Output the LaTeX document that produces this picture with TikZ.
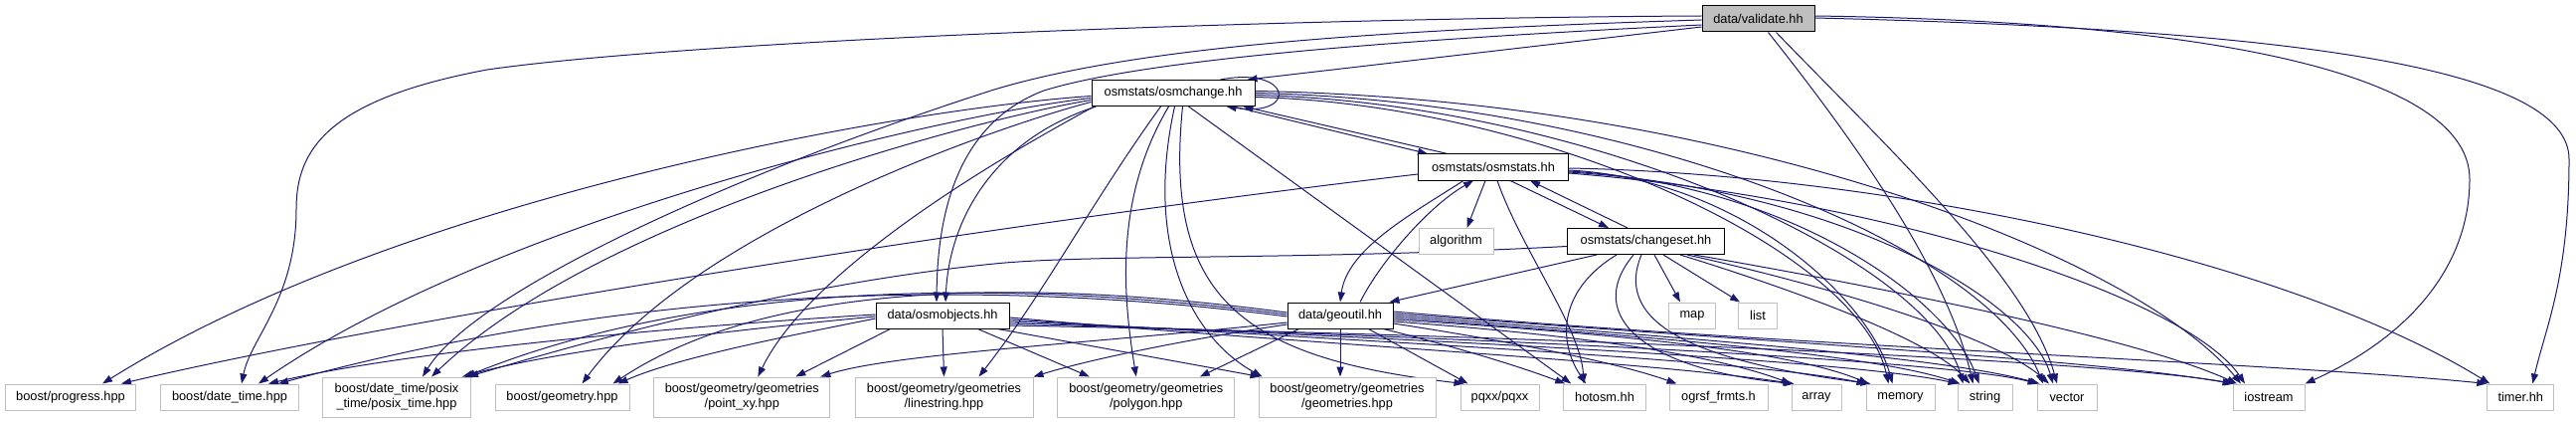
\documentclass[tikz,border=0pt]{standalone}
\usepackage{fontspec}
\setmainfont{Liberation Sans}
\usetikzlibrary{arrows.meta}
\definecolor{edgec}{HTML}{191970}
\definecolor{extgray}{HTML}{BFBFBF}
\definecolor{vfill}{HTML}{BFBFBF}
\pgfdeclarelayer{bg}
\pgfsetlayers{bg,main}
\begin{document}
\begin{tikzpicture}[x=1pt,y=-1pt,
  box/.style={rectangle, inner sep=0pt, minimum height=26pt, font=\fontsize{12.8}{15}\selectfont, line width=1pt},
  doc/.style={box, draw=black, fill=white},
  ext/.style={box, draw=extgray, fill=white},
  ext2/.style={ext, minimum height=40pt, align=center},
  e/.style={draw=edgec, line width=1pt, -{Triangle[length=10pt,width=7pt]}}]
\useasboundingbox (0,0) rectangle (2591,425);
% nodes
\node[doc, fill=vfill, minimum width=113pt] (V) at (1768.5,19) {data/validate.hh};
\node[doc, minimum width=164pt] (OC) at (1180,93.5) {osmstats/osmchange.hh};
\node[doc, minimum width=151pt] (OS) at (1502,168) {osmstats/osmstats.hh};
\node[doc, minimum width=158pt] (CS) at (1655.5,242.5) {osmstats/changeset.hh};
\node[ext, minimum width=75pt] (ALG) at (1464.5,242.5) {algorithm};
\node[doc, minimum width=134pt] (OO) at (948,317) {data/osmobjects.hh};
\node[doc, minimum width=106pt] (GU) at (1348,317) {data/geoutil.hh};
\node[ext, minimum width=47pt] (MAP) at (1702,317) {map};
\node[ext, minimum width=39pt] (LIST) at (1768,317) {list};
\node[ext, minimum width=131pt] (PROG) at (71,399) {boost/progress.hpp};
\node[ext, minimum width=139pt] (DT) at (231,399) {boost/date\_time.hpp};
\node[ext2, minimum width=149pt] (PT) at (399,399) {boost/date\_time/posix\\\_time/posix\_time.hpp};
\node[ext, minimum width=135pt] (GEO) at (565.5,399) {boost/geometry.hpp};
\node[ext2, minimum width=177pt] (PXY) at (746.3,399) {boost/geometry/geometries\\/point\_xy.hpp};
\node[ext2, minimum width=179pt] (LS) at (949.5,399) {boost/geometry/geometries\\/linestring.hpp};
\node[ext2, minimum width=178pt] (POLY) at (1152.8,399) {boost/geometry/geometries\\/polygon.hpp};
\node[ext2, minimum width=178pt] (GEOMS) at (1355,399) {boost/geometry/geometries\\/geometries.hpp};
\node[ext, minimum width=79pt] (PQXX) at (1508.5,399) {pqxx/pqxx};
\node[ext, minimum width=82.5pt] (HOT) at (1614,399) {hotosm.hh};
\node[ext, minimum width=99pt] (OGR) at (1728.5,399) {ogrsf\_frmts.h};
\node[ext, minimum width=50pt] (ARR) at (1827,399) {array};
\node[ext, minimum width=69pt] (MEM) at (1911.5,399) {memory};
\node[ext, minimum width=55pt] (STR) at (1996.5,399) {string};
\node[ext, minimum width=60pt] (VEC) at (2079,399) {vector};
\node[ext, minimum width=72pt] (IOS) at (2282,399) {iostream};
\node[ext, minimum width=67pt] (TIMER) at (2535.3,399) {timer.hh};
\begin{pgfonlayer}{bg}
% validate.hh
\draw[e] ([yshift=-8pt]V.west) -- ([xshift=-8pt]OC.north east);
\draw[e] ([yshift=3pt]V.west) .. controls (1300,18) and (700,40) .. (490,70) .. controls (330,100) and (298,150) .. (298,210) .. controls (298,300) and (252,340) .. ([xshift=12pt]DT.north);
\draw[e] ([yshift=-1pt]V.west) .. controls (1400,30) and (1150,45) .. (1000,90) .. controls (750,170) and (480,290) .. ([xshift=26pt]PT.north);
\draw[e] ([yshift=-6pt]V.west) .. controls (1400,40) and (1150,60) .. (1050,91) .. controls (960,125) and (943,220) .. ([xshift=-6pt]OO.north);
\draw[e] ([xshift=10pt]V.south) .. controls (1880,160) and (1960,280) .. ([xshift=-12pt]STR.north);
\draw[e] ([xshift=18pt]V.south) .. controls (1900,150) and (2040,280) .. ([xshift=-10pt]VEC.north);
\draw[e] ([yshift=3pt]V.east) .. controls (2250,22) and (2484,80) .. (2484,180) .. controls (2484,270) and (2420,340) .. (IOS.north east);
\draw[e] ([yshift=1pt]V.east) .. controls (2320,30) and (2584,70) .. (2584,160) .. controls (2584,280) and (2560,330) .. ([xshift=12pt]TIMER.north);
% osmchange.hh
\draw[e] ([xshift=-35pt]OC.north east) .. controls (1300,66) and (1306,118) .. ([xshift=-29pt]OC.south east);
\draw[e] ([xshift=-22pt]OC.south east) -- ([xshift=10pt]OS.north west);
\draw[e] ([xshift=30pt]OS.north west) -- ([xshift=-12pt]OC.south east);
\draw[e] ([xshift=5pt]OC.south west) .. controls (1000,140) and (955,220) .. ([xshift=3pt]OO.north);
\draw[e] ([yshift=-3pt]OC.west) .. controls (900,110) and (400,200) .. ([xshift=32pt]PROG.north);
\draw[e] ([yshift=-5pt]OC.west) .. controls (950,115) and (500,220) .. ([xshift=29pt]DT.north);
\draw[e] ([yshift=-7pt]OC.west) .. controls (980,120) and (600,220) .. ([xshift=35pt]PT.north);
\draw[e] ([yshift=-9pt]OC.west) .. controls (1010,125) and (700,230) .. ([xshift=20pt]GEO.north);
\draw[e] ([xshift=3pt]OC.south west) .. controls (1040,140) and (820,260) .. ([xshift=16pt]PXY.north);
\draw[e] ([xshift=70pt]OC.south west) .. controls (1100,200) and (1050,295) .. ([xshift=35pt]LS.north);
\draw[e] ([xshift=78pt]OC.south west) .. controls (1120,200) and (1130,300) .. ([xshift=-10pt]POLY.north);
\draw[e] ([xshift=84pt]OC.south west) .. controls (1150,250) and (1200,340) .. ([xshift=4pt]GEOMS.north west);
\draw[e] ([xshift=92pt]OC.south west) .. controls (1170,300) and (1250,360) .. ([xshift=4pt]PQXX.north west);
\draw[e] ([xshift=98pt]OC.south west) -- ([xshift=8pt]HOT.north west);
\draw[e] ([yshift=2pt]OC.east) .. controls (1750,100) and (2150,260) .. ([xshift=-28pt]IOS.north);
\draw[e] ([yshift=0pt]OC.east) .. controls (1650,102) and (2000,250) .. ([xshift=-24pt]VEC.north);
\draw[e] ([yshift=-2pt]OC.east) .. controls (1600,104) and (1940,260) .. ([xshift=-22pt]STR.north);
\draw[e] ([yshift=-4pt]OC.east) .. controls (1550,105) and (1870,250) .. ([xshift=-12pt]MEM.north);
% osmstats.hh
\draw[e] ([xshift=93pt]OS.south west) -- ([xshift=42pt]CS.north west);
\draw[e] ([xshift=61pt]CS.north west) -- ([xshift=113pt]OS.south west);
\draw[e] ([xshift=68pt]OS.south west) -- ([xshift=11pt]ALG.north);
\draw[e] ([xshift=46pt]OS.south west) .. controls (1420,215) and (1355,250) .. (GU.north);
\draw[e] ([xshift=20pt]GU.north) .. controls (1390,260) and (1440,205) .. ([xshift=56pt]OS.south west);
\draw[e] ([xshift=80pt]OS.south west) .. controls (1530,250) and (1590,330) .. ([xshift=-21pt]HOT.north);
\draw[e] ([yshift=-7pt]OS.west) .. controls (1000,225) and (400,320) .. ([xshift=51pt]PROG.north);
\draw[e] ([yshift=-3pt]OS.east) .. controls (1750,180) and (1880,300) .. ([xshift=-8pt]MEM.north);
\draw[e] ([yshift=-4pt]OS.east) .. controls (1800,185) and (1960,300) .. ([xshift=-6pt]STR.north);
\draw[e] ([yshift=-5pt]OS.east) .. controls (1850,190) and (2040,300) .. ([xshift=-14pt]VEC.north);
\draw[e] ([yshift=-6pt]OS.east) .. controls (1900,200) and (2200,300) .. ([xshift=-24pt]IOS.north);
\draw[e] ([yshift=-1pt]OS.east) .. controls (1900,175) and (2300,260) .. ([xshift=3pt]TIMER.north west);
% changeset.hh
\draw[e] ([xshift=30pt]CS.south west) -- ([xshift=-4pt]GU.north east);
\draw[e] ([xshift=88pt]CS.south west) -- ([xshift=-12pt]MAP.north);
\draw[e] ([xshift=97pt]CS.south west) -- ([xshift=-18pt]LIST.north);
\draw[e] ([xshift=50pt]CS.south west) .. controls (1570,290) and (1565,340) .. ([xshift=-19pt]HOT.north);
\draw[e] ([xshift=67pt]CS.south west) .. controls (1590,320) and (1660,372) .. ([xshift=3pt]ARR.north west);
\draw[e] ([xshift=75pt]CS.south west) .. controls (1620,330) and (1720,365) .. ([xshift=5pt]MEM.north west);
\draw[e] ([xshift=-45pt]CS.south east) .. controls (1800,290) and (1940,340) .. ([xshift=-15pt]STR.north);
\draw[e] ([xshift=-38pt]CS.south east) .. controls (1850,290) and (2010,340) .. ([xshift=-18pt]VEC.north);
\draw[e] ([xshift=-31pt]CS.south east) .. controls (1900,290) and (2150,340) .. ([xshift=-32pt]IOS.north);
\draw[e] ([yshift=-5pt]CS.west) .. controls (1300,262) and (1100,255) .. (1000,265) .. controls (800,285) and (600,340) .. ([xshift=-3pt]PT.north east);
% geoutil.hh
\draw[e] ([yshift=-1pt]GU.west) .. controls (1000,280) and (650,285) .. ([xshift=49pt]DT.north);
\draw[e] ([yshift=1pt]GU.west) .. controls (1000,278) and (700,285) .. ([xshift=-6pt]PT.north east);
\draw[e] ([yshift=3pt]GU.west) .. controls (1000,275) and (760,290) .. ([xshift=-17pt]GEO.north east);
\draw[e] ([yshift=-7pt]GU.west) .. controls (1100,345) and (900,355) .. ([xshift=-10pt]PXY.north east);
\draw[e] ([yshift=-9pt]GU.west) .. controls (1200,340) and (1100,360) .. (LS.north east);
\draw[e] ([xshift=12pt]GU.south west) -- ([xshift=54pt]POLY.north);
\draw[e] (GU.south) -- ([xshift=-7pt]GEOMS.north);
\draw[e] ([xshift=-25pt]GU.south east) -- ([xshift=8pt]PQXX.north west);
\draw[e] ([xshift=-10pt]GU.south east) .. controls (1450,345) and (1520,365) .. ([xshift=2pt]HOT.north west);
\draw[e] ([yshift=-8pt]GU.east) .. controls (1500,340) and (1620,362) .. ([xshift=8pt]OGR.north west);
\draw[e] ([yshift=-6pt]GU.east) .. controls (1580,336) and (1720,355) .. (ARR.north west);
\draw[e] ([yshift=-4pt]GU.east) .. controls (1620,335) and (1800,352) .. ([xshift=3pt]MEM.north west);
\draw[e] ([yshift=-2pt]GU.east) .. controls (1650,338) and (1880,355) .. ([xshift=3pt]STR.north west);
\draw[e] ([yshift=0pt]GU.east) .. controls (1700,340) and (1950,358) .. ([xshift=3pt]VEC.north west);
\draw[e] ([yshift=2pt]GU.east) .. controls (1750,342) and (2100,360) .. (IOS.north west);
\draw[e] ([yshift=4pt]GU.east) .. controls (1800,348) and (2300,365) .. (TIMER.north west);
% osmobjects.hh
\draw[e] ([yshift=1pt]OO.west) .. controls (650,330) and (400,355) .. ([xshift=39pt]DT.north);
\draw[e] ([yshift=-1pt]OO.west) .. controls (700,335) and (550,355) .. ([xshift=-9pt]PT.north east);
\draw[e] ([yshift=-3pt]OO.west) .. controls (780,340) and (680,360) .. ([xshift=-12pt]GEO.north east);
\draw[e] ([xshift=15pt]OO.south west) -- ([xshift=-35pt]PXY.north east);
\draw[e] (OO.south) -- (LS.north);
\draw[e] ([xshift=-32pt]OO.south east) -- ([xshift=-57pt]POLY.north);
\draw[e] ([xshift=-12pt]OO.south east) -- ([xshift=2pt]GEOMS.north west);
\draw[e] ([yshift=-2pt]OO.east) .. controls (1300,345) and (1650,362) .. ([xshift=2pt]ARR.north west);
\draw[e] ([yshift=-4pt]OO.east) .. controls (1350,342) and (1750,360) .. ([xshift=1pt]MEM.north west);
\draw[e] ([yshift=-6pt]OO.east) .. controls (1400,340) and (1850,360) .. ([xshift=1pt]STR.north west);
\draw[e] ([yshift=-8pt]OO.east) .. controls (1450,338) and (1950,360) .. ([xshift=1pt]VEC.north west);
\draw[e] ([yshift=-10pt]OO.east) .. controls (1500,336) and (2100,360) .. ([xshift=2pt]IOS.north west);
\end{pgfonlayer}
\end{tikzpicture}
\end{document}
